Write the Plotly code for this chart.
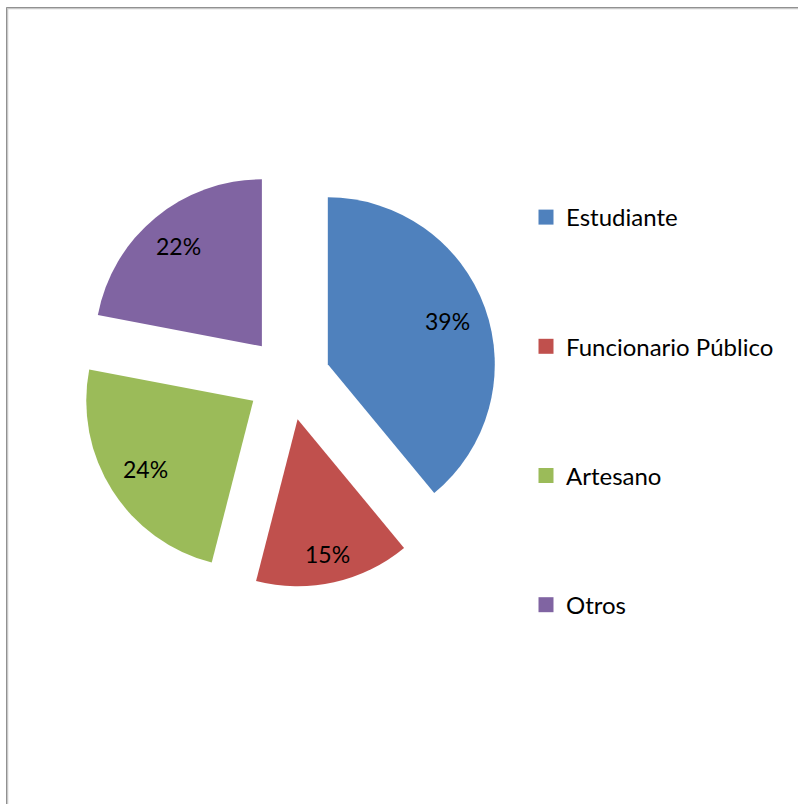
import math
import plotly.graph_objects as go

# ---- data ----
categories = ["Estudiante", "Funcionario Público", "Artesano", "Otros"]
values = [39, 15, 24, 22]
colors = ["#4F81BD", "#C0504D", "#9BBB59", "#8064A2"]

# ---- layout geometry (pixels) ----
W, H = 798, 804
cx_px, cy_px = 288.5, 378.5
r_px = 167.0
pull = 0.25
half = r_px * (1 + pull)
dom_x = [(cx_px - half) / W, (cx_px + half) / W]
dom_y = [1 - (cy_px + half) / H, 1 - (cy_px - half) / H]
LBL_SIZE = 23
LEG_SIZE = 24

fig = go.Figure()
fig.add_trace(go.Pie(
    labels=categories, values=values, sort=False, direction="clockwise",
    rotation=0, pull=[pull] * len(values),
    marker=dict(colors=colors, line=dict(width=0)),
    textinfo="none", hoverinfo="label+percent", showlegend=False,
    domain=dict(x=dom_x, y=dom_y),
))

# legend entries
for cat, col in zip(categories, colors):
    fig.add_trace(go.Scatter(
        x=[None], y=[None], mode="markers", name=cat, legendgroup=cat,
        marker=dict(symbol="square", size=15, color=col, line=dict(width=0)),
        showlegend=True, hoverinfo="skip",
    ))

# percentage labels: text box kept inside the slice, outer edge near 0.9 r
total = sum(values)
cum = 0
annotations = []
hw, hh = 22.0, 8.0
for v in values:
    mid = (cum + v / 2) / total * 2 * math.pi
    cum += v
    s, c = math.sin(mid), math.cos(mid)
    ext = hw * abs(s) + hh * abs(c)
    R = pull * r_px + 0.9 * r_px - ext
    xp = cx_px + R * s
    yp = cy_px - R * c
    annotations.append(dict(
        x=xp / W, y=1 - yp / H, xref="paper", yref="paper",
        text=f"{round(v / total * 100)}%", showarrow=False,
        font=dict(family="Lato", size=LBL_SIZE, color="black"),
        xanchor="center", yanchor="middle",
    ))

shapes = [
    dict(type="rect", xref="paper", yref="paper",
         x0=6.5 / W, y0=1 - 7.5 / H, x1=1.2, y1=-0.2,
         line=dict(color="#7f7f7f", width=1)),
    dict(type="rect", xref="paper", yref="paper",
         x0=7.5 / W, y0=1 - 8.5 / H, x1=1.2, y1=-0.2,
         line=dict(color="#c8c8c8", width=1.5)),
]

fig.update_layout(
    width=W, height=H, margin=dict(l=0, r=0, t=0, b=0),
    paper_bgcolor="white", plot_bgcolor="white",
    xaxis=dict(visible=False), yaxis=dict(visible=False),
    font=dict(family="Lato", size=LEG_SIZE, color="black"),
    legend=dict(x=526 / W, y=1 - 195 / H, xanchor="left", yanchor="top",
                tracegroupgap=95, traceorder="grouped",
                font=dict(family="Lato", size=LEG_SIZE, color="black"),
                bgcolor="rgba(0,0,0,0)"),
    annotations=annotations, shapes=shapes,
)

fig.write_html(
    "out.html",
    config={"displayModeBar": False},
    post_script="document.body.style.margin='0px';document.body.style.overflow='hidden';",
)
